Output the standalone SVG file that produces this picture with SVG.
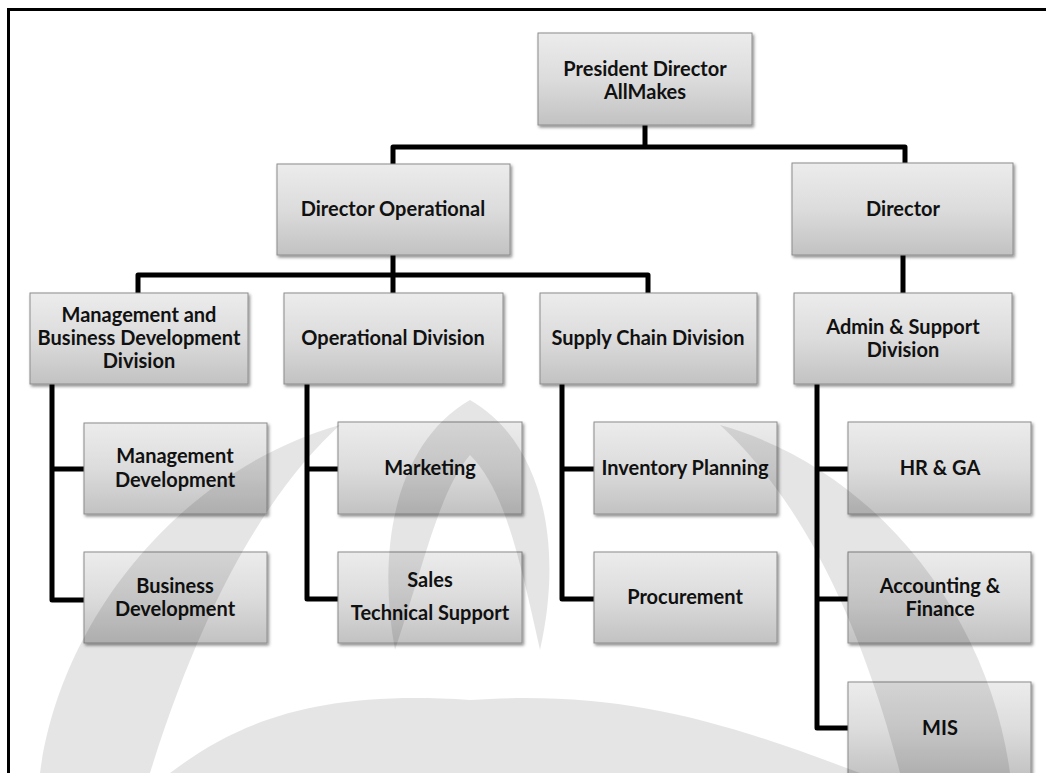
<svg xmlns="http://www.w3.org/2000/svg" width="1046" height="773" viewBox="0 0 1046 773">
<style>
.box{fill:url(#g);stroke:#8c8c8c;stroke-width:1;filter:url(#sh)}
.t{font-family:Lato,"Liberation Sans",sans-serif;font-weight:bold;font-size:20px;fill:#111;text-anchor:middle}
.c{fill:none;stroke:#000;stroke-width:5;stroke-linejoin:round}
.wm{fill:#000;fill-opacity:0.1}
</style>
<defs>
<linearGradient id="g" x1="0" y1="0" x2="0" y2="1">
<stop offset="0" stop-color="#ececec"/>
<stop offset="0.5" stop-color="#dcdcdc"/>
<stop offset="1" stop-color="#c2c2c2"/>
</linearGradient>
<filter id="sh" x="-10%" y="-10%" width="120%" height="130%">
<feDropShadow dx="1.5" dy="2" stdDeviation="1.5" flood-color="#000" flood-opacity="0.45"/>
</filter>
</defs>
<rect width="1046" height="773" fill="#fff"/>
<path d="M8.5,773 V9.5 H1046" fill="none" stroke="#000" stroke-width="3"/>
<g id="connectors">
<path class="c" d="M645,125 V147"/>
<path class="c" d="M393,165 V147 H905 V163"/>
<path class="c" d="M393,255 V293"/>
<path class="c" d="M138,293 V275 H648 V293"/>
<path class="c" d="M903,255 V293"/>
<path class="c" d="M52,384 V600 H84 M52,469 H84"/>
<path class="c" d="M307,384 V599 H338 M307,469 H338"/>
<path class="c" d="M562,384 V599 H594 M562,469 H594"/>
<path class="c" d="M817,384 V728 H848 M817,469 H848 M817,599 H848"/>
</g>
<g id="president"><rect class="box" x="538" y="33" width="214" height="92"/><text class="t" x="645" y="76">President Director</text><text class="t" x="645" y="99">AllMakes</text></g>
<g id="director-operational"><rect class="box" x="277" y="164" width="233" height="91"/><text class="t" x="393" y="216">Director Operational</text></g>
<g id="director"><rect class="box" x="792" y="163" width="221" height="92"/><text class="t" x="903" y="216">Director</text></g>
<g id="mbd-division"><rect class="box" x="30" y="293" width="218" height="91"/><text class="t" x="139" y="322">Management and</text><text class="t" x="139" y="345">Business Development</text><text class="t" x="139" y="368" fill="#333">Division</text></g>
<g id="operational-division"><rect class="box" x="284" y="293" width="219" height="91"/><text class="t" x="393" y="345">Operational Division</text></g>
<g id="supply-chain-division"><rect class="box" x="540" y="293" width="217" height="91"/><text class="t" x="648" y="345">Supply Chain Division</text></g>
<g id="admin-division"><rect class="box" x="794" y="293" width="218" height="91"/><text class="t" x="903" y="334">Admin &amp; Support</text><text class="t" x="903" y="357">Division</text></g>
<g id="management-development"><rect class="box" x="84" y="423" width="183" height="91"/><text class="t" x="175" y="463">Management</text><text class="t" x="175" y="487">Development</text></g>
<g id="business-development"><rect class="box" x="84" y="552" width="183" height="91"/><text class="t" x="175" y="593">Business</text><text class="t" x="175" y="616">Development</text></g>
<g id="marketing"><rect class="box" x="338" y="422" width="184" height="92"/><text class="t" x="430" y="475">Marketing</text></g>
<g id="sales"><rect class="box" x="338" y="552" width="184" height="91"/><text class="t" x="430" y="587">Sales</text><text class="t" x="430" y="620">Technical Support</text></g>
<g id="inventory-planning"><rect class="box" x="594" y="422" width="183" height="92"/><text class="t" x="685" y="475">Inventory Planning</text></g>
<g id="procurement"><rect class="box" x="594" y="552" width="183" height="91"/><text class="t" x="685" y="604">Procurement</text></g>
<g id="hr-ga"><rect class="box" x="848" y="422" width="183" height="92"/><text class="t" x="940" y="475">HR &amp; GA</text></g>
<g id="accounting-finance"><rect class="box" x="848" y="552" width="183" height="91"/><text class="t" x="940" y="593">Accounting &amp;</text><text class="t" x="940" y="616">Finance</text></g>
<g id="mis"><rect class="box" x="848" y="682" width="183" height="95"/><text class="t" x="940" y="735">MIS</text></g>
<g id="watermark">
<path class="wm" d="M40,773 C60,620 180,470 340,425 C280,480 210,580 150,773 Z"/>
<path class="wm" d="M1010,773 C990,620 880,470 720,425 C780,480 850,580 900,773 Z"/>
<path class="wm" d="M395,650 C375,540 400,440 470,400 C540,440 565,540 540,650 C520,560 505,490 470,455 C440,490 425,560 395,650 Z"/>
<path class="wm" d="M170,773 C240,720 320,690 470,700 C620,690 720,720 860,773 Z"/>
</g>
</svg>
